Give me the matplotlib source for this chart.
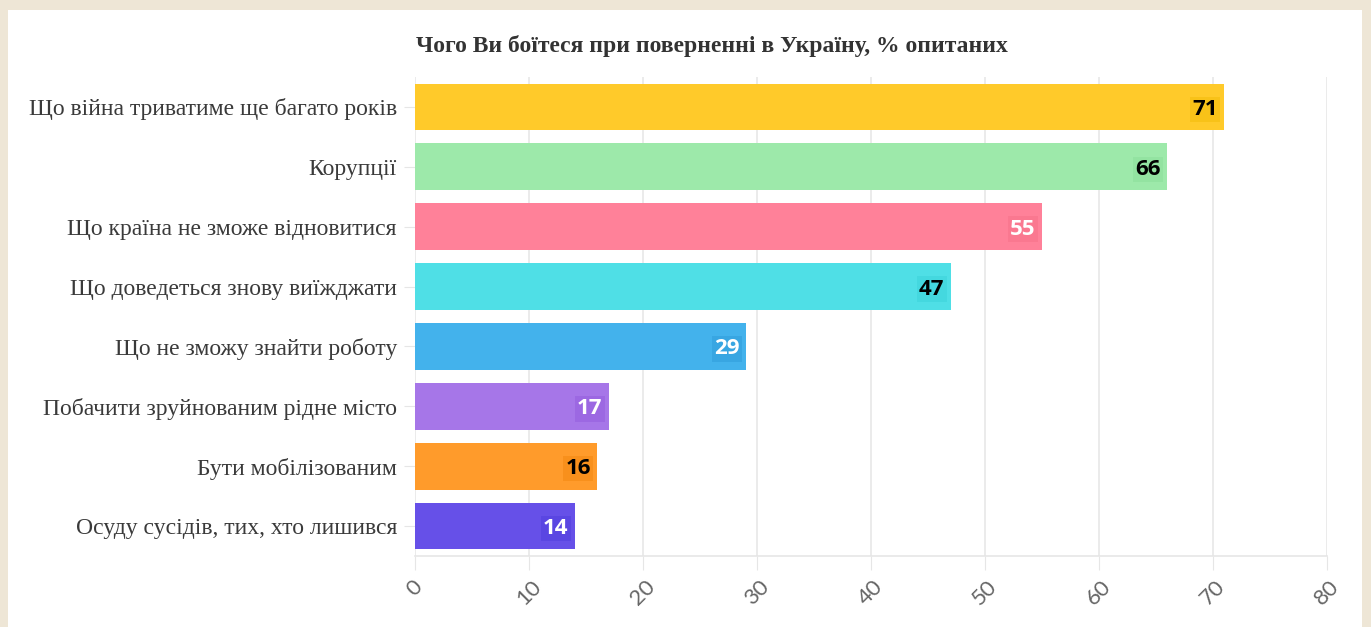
import matplotlib.pyplot as plt
from matplotlib.patches import Rectangle

categories = [
    'Що війна триватиме ще багато років',
    'Корупції',
    'Що країна не зможе відновитися',
    'Що доведеться знову виїжджати',
    'Що не зможу знайти роботу',
    'Побачити зруйнованим рідне місто',
    'Бути мобілізованим',
    'Осуду сусідів, тих, хто лишився',
]
values = [71, 66, 55, 47, 29, 17, 16, 14]
colors = ['#FFCA2A', '#9DE9AA', '#FF8199', '#4FDFE6', '#43B2EC', '#A676E8', '#FF9B2B', '#6650E8']
label_bg = ['#F8C218', '#93E3A1', '#FA7890', '#44D8DF', '#38A6E2', '#9C68E2', '#F8901C', '#5A46E2']
label_colors = ['black', 'black', 'white', 'black', 'white', 'white', 'black', 'white']
xticks = [0, 10, 20, 30, 40, 50, 60, 70, 80]

fig = plt.figure(figsize=(13.71, 6.27), dpi=100)
fig.patch.set_facecolor('#EEE6D6')
fig.patches.append(Rectangle((8 / 1371, 0), 1354 / 1371, 1 - 10 / 627,
                             transform=fig.transFigure, facecolor='white',
                             edgecolor='none', zorder=-5))

ax = fig.add_axes([415 / 1371, 1 - 556 / 627, 912 / 1371, 479 / 627])
ax.set_facecolor('none')

y = list(range(len(categories)))
ax.barh(y, values, height=0.78, color=colors, zorder=2)
ax.set_ylim(len(categories) - 0.5, -0.5)
ax.set_xlim(0, 80)

ax.set_yticks(y)
ax.set_yticklabels(categories, family='Liberation Serif', fontsize=17, color='#3a3a3a')
ax.set_xticks(xticks)
ax.set_xticklabels([str(t) for t in xticks], rotation=45, ha='center', va='top',
                   family='Lato', fontsize=16, color='#666666')

ax.tick_params(axis='x', length=10, color='#e6e6e6', pad=5)
ax.tick_params(axis='y', length=8, color='#e6e6e6', pad=5)
ax.grid(axis='x', color='#e8e8e8', linewidth=1.2, zorder=1)
for s in ['top', 'right', 'left']:
    ax.spines[s].set_visible(False)
ax.spines['bottom'].set_color('#e6e6e6')
ax.spines['bottom'].set_linewidth(1.2)

for i, v in enumerate(values):
    ax.text(v - 0.55, i, str(v), ha='right', va='center_baseline', fontsize=16,
            fontweight='bold', family='Open Sans', color=label_colors[i], zorder=3,
            bbox=dict(boxstyle='square,pad=0.1', facecolor=label_bg[i], edgecolor='none'))

fig.text(712 / 1371, 1 - 46 / 627, 'Чого Ви боїтеся при поверненні в Україну, % опитаних',
         ha='center', va='center', family='Liberation Serif', fontweight='bold',
         fontsize=17, color='#333333')

fig.savefig('out.png', dpi=100, facecolor=fig.get_facecolor())
